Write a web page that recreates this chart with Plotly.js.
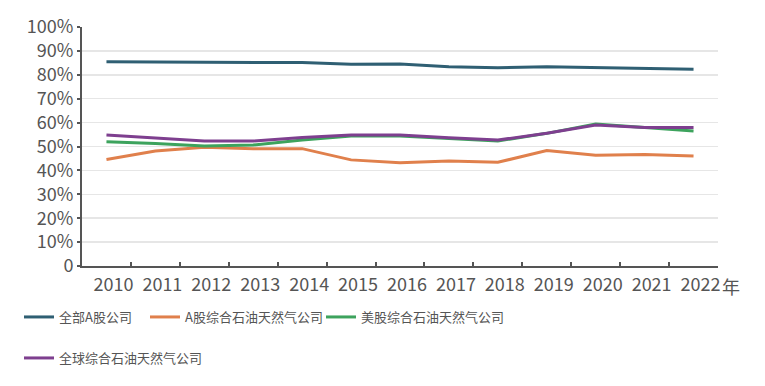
<!DOCTYPE html>
<html>
<head>
<meta charset="utf-8">
<script src="https://cdn.plot.ly/plotly-3.0.1.min.js"></script>
<style>html,body{margin:0;padding:0;background:#fff;}#chart{width:765px;height:386px;}</style>
</head>
<body>
<div id="chart"></div>
<script>
const years = ["2010","2011","2012","2013","2014","2015","2016","2017","2018","2019","2020","2021","2022"];
const allA = [85.5, 85.4, 85.5, 85.4, 85.1, 84.4, 84.5, 83.4, 83.0, 83.4, 83.1, 82.6, 82.3];
const aOilGas = [44.6, 48.1, 49.7, 49.1, 49.1, 44.4, 43.2, 43.9, 43.4, 48.3, 46.3, 46.7, 46.0];
const usOilGas = [52.0, 51.3, 50.2, 50.6, 52.7, 54.4, 54.4, 53.4, 52.3, 55.5, 59.4, 58.0, 56.5];
const globalOilGas = [54.8, 53.7, 52.3, 52.3, 53.8, 54.8, 54.8, 53.7, 52.7, 55.5, 59.0, 58.0, 57.9];
const names = ["全部A股公司", "A股综合石油天然气公司", "美股综合石油天然气公司", "全球综合石油天然气公司"];
const colors = ["#2f5f73", "#e0804c", "#3da35d", "#7e3f8f"];
const yTickVals = [0,10,20,30,40,50,60,70,80,90,100];
const yTickText = ["0","10%","20%","30%","40%","50%","60%","70%","80%","90%","100%"];

const FONT = '"Noto Sans CJK SC", "Noto Sans", sans-serif';
const series = [allA, aOilGas, usOilGas, globalOilGas];
const legendIds = ["legend", "legend2", "legend3", "legend4"];
const traces = series.map((s, i) => ({
  type: "scatter", mode: "lines", x: years, y: s, name: names[i],
  line: {color: colors[i], width: 3}, legend: legendIds[i], hoverinfo: "skip"
}));

function lg(px, py) {
  return {x: px / 765, y: 1 - py / 386, xref: "container", yref: "container",
    xanchor: "left", yanchor: "middle", orientation: "h", bgcolor: "rgba(0,0,0,0)",
    font: {family: FONT, size: 13, color: "#555"}};
}

const layout = {
  width: 765, height: 386,
  margin: {l: 82, r: 47, t: 27, b: 120},
  paper_bgcolor: "#fff", plot_bgcolor: "#fff",
  showlegend: true,
  font: {family: FONT, color: "#555"},
  xaxis: {
    type: "category", range: [-0.5, 12.5],
    showline: true, linecolor: "#555", linewidth: 2,
    ticks: "inside", tickson: "boundaries", ticklen: 4, tickcolor: "#555", tickwidth: 2,
    showgrid: false, zeroline: false, tickangle: 0,
    ticklabelshift: 7, ticklabelstandoff: 1,
    tickfont: {family: FONT, size: 18, color: "#555"}
  },
  yaxis: {
    range: [0, 100], tickvals: yTickVals, ticktext: yTickText,
    showline: true, linecolor: "#555", linewidth: 2,
    ticks: "outside", ticklen: 3, tickcolor: "#555", tickwidth: 2,
    showgrid: true, gridcolor: "#e6e6e6", gridwidth: 1.5, zeroline: false,
    tickfont: {family: FONT, size: 18, color: "#555"}
  },
  legend: lg(19, 317),
  legend2: lg(145, 317),
  legend3: lg(321, 317),
  legend4: lg(19, 358),
  annotations: [{
    text: "年", xref: "paper", yref: "paper", x: (720 - 82) / 636, y: 0,
    xanchor: "left", yanchor: "top", yshift: -5, showarrow: false,
    font: {family: FONT, size: 18, color: "#555"}
  }]
};

Plotly.newPlot("chart", traces, layout, {displayModeBar: false, staticPlot: true});
</script>
</body>
</html>
